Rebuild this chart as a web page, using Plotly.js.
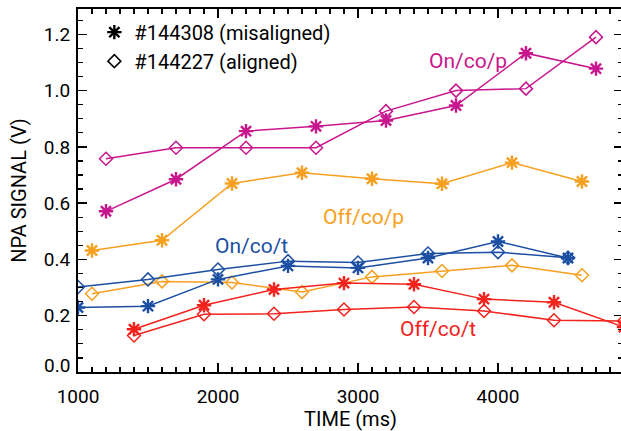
<!DOCTYPE html>
<html>
<head>
<meta charset="utf-8">
<script src="https://cdn.plot.ly/plotly-3.0.1.min.js"></script>
<style>
html, body { margin:0; padding:0; overflow:hidden; background:#fff; }
#chart { width:623px; height:431px; }
</style>
</head>
<body>
<div id="chart"></div>
<script>
// Times (ms)
const tOnP  = [1200, 1700, 2200, 2700, 3200, 3700, 4200, 4700];
const tOffP = [1100, 1600, 2100, 2600, 3100, 3600, 4100, 4600];
const tOnT  = [1000, 1500, 2000, 2500, 3000, 3500, 4000, 4500];
const tOffT = [1400, 1900, 2400, 2900, 3400, 3900, 4400, 4900];

// NPA signal (V): misaligned #144308 (asterisk) and aligned #144227 (diamond)
const onP_mis  = [0.571, 0.685, 0.856, 0.873, 0.894, 0.947, 1.133, 1.078];
const onP_al   = [0.758, 0.797, 0.797, 0.797, 0.927, 1.000, 1.007, 1.190];
const offP_mis = [0.432, 0.468, 0.670, 0.708, 0.687, 0.669, 0.744, 0.677];
const offP_al  = [0.278, 0.322, 0.318, 0.284, 0.338, 0.359, 0.379, 0.344];
const onT_mis  = [0.229, 0.234, 0.329, 0.377, 0.370, 0.405, 0.464, 0.405];
const onT_al   = [0.302, 0.329, 0.364, 0.394, 0.389, 0.421, 0.426, 0.406];
const offT_mis = [0.152, 0.237, 0.293, 0.316, 0.312, 0.259, 0.248, 0.160];
const offT_al  = [0.130, 0.205, 0.207, 0.222, 0.231, 0.217, 0.184, 0.181];

const legendNames = ['#144308 (misaligned)', '#144227 (aligned)'];
const groupLabels = ['On/co/p', 'Off/co/p', 'On/co/t', 'Off/co/t'];
const xTicks = [1000, 2000, 3000, 4000];
const yTicks = [0.2, 0.4, 0.6, 0.8, 1.0, 1.2];
const yZeroLabel = '0.0';

const MAG = '#c8168e', ORA = '#f7a020', BLU = '#1c4fa3', RED = '#f2221c';
const FONT = 'Roboto, Liberation Sans, sans-serif';

function mis(x, y, c) {
  return {x: x, y: y, type: 'scatter', mode: 'lines+markers', showlegend: false,
    line: {color: c, width: 1.5},
    marker: {symbol: 'asterisk-open', size: 12, color: c, line: {color: c, width: 2.4}}};
}
function al(x, y, c) {
  return {x: x, y: y, type: 'scatter', mode: 'lines+markers', showlegend: false,
    line: {color: c, width: 1.5},
    marker: {symbol: 'diamond-open', size: 10, color: c, line: {color: c, width: 1.5}}};
}

const data = [
  mis(tOnP, onP_mis, MAG), al(tOnP, onP_al, MAG),
  mis(tOffP, offP_mis, ORA), al(tOffP, offP_al, ORA),
  mis(tOnT, onT_mis, BLU), al(tOnT, onT_al, BLU),
  mis(tOffT, offT_mis, RED), al(tOffT, offT_al, RED),
  {x: [null], y: [null], type: 'scatter', mode: 'markers', name: legendNames[0],
   marker: {symbol: 'asterisk-open', size: 12, color: '#000', line: {color: '#000', width: 2.4}}},
  {x: [null], y: [null], type: 'scatter', mode: 'markers', name: legendNames[1],
   marker: {symbol: 'diamond-open', size: 10, color: '#000', line: {color: '#000', width: 1.5}}}
];

const ann = (text, x, y, c) => ({text: text, x: x, y: y, xref: 'x', yref: 'y', showarrow: false,
  font: {family: FONT, size: 21, color: c}});

const layout = {
  width: 623, height: 431,
  margin: {l: 78, r: 0, t: 9, b: 59},
  paper_bgcolor: '#fff', plot_bgcolor: '#fff',
  font: {family: FONT, size: 19, color: '#000'},
  showlegend: true,
  legend: {x: 0.03, y: 0.99, xanchor: 'left', yanchor: 'top', bgcolor: 'rgba(0,0,0,0)',
    font: {family: FONT, size: 20, color: '#000'}, tracegroupgap: 0, itemwidth: 30},
  xaxis: {
    range: [1000, 4893], tickvals: xTicks,
    ticks: 'inside', ticklen: 9, tickwidth: 1.5, tickcolor: '#000',
    minor: {dtick: 100, ticks: 'inside', ticklen: 5, tickwidth: 1.2, tickcolor: '#000'},
    showline: true, linecolor: '#000', linewidth: 2, mirror: 'allticks',
    showgrid: false, zeroline: false, ticklabelstandoff: 6,
    tickfont: {family: FONT, size: 19},
    title: {text: 'TIME (ms)', font: {family: FONT, size: 20}, standoff: 3}
  },
  yaxis: {
    range: [0, 1.29], tickvals: yTicks, tickformat: '.1f',
    ticks: 'inside', ticklen: 9, tickwidth: 1.5, tickcolor: '#000',
    minor: {dtick: 0.05, ticks: 'inside', ticklen: 5, tickwidth: 1.2, tickcolor: '#000'},
    showline: true, linecolor: '#000', linewidth: 2, mirror: 'allticks',
    showgrid: false, zeroline: false, ticklabelstandoff: 2,
    tickfont: {family: FONT, size: 19},
    title: {text: 'NPA SIGNAL (V)', font: {family: FONT, size: 20}, standoff: 12}
  },
  annotations: [
    ann(groupLabels[0], 3786, 1.107, MAG),
    ann(groupLabels[1], 3036, 0.551, ORA),
    ann(groupLabels[2], 2236, 0.448, BLU),
    ann(groupLabels[3], 3568, 0.152, RED),
    {text: yZeroLabel, xref: 'paper', x: 0, xanchor: 'right', xshift: -6, yref: 'y', y: 0,
     yanchor: 'middle', yshift: 7, showarrow: false, font: {family: FONT, size: 19, color: '#000'}}
  ]
};

Plotly.newPlot('chart', data, layout, {displayModeBar: false, staticPlot: true});
</script>
</body>
</html>
